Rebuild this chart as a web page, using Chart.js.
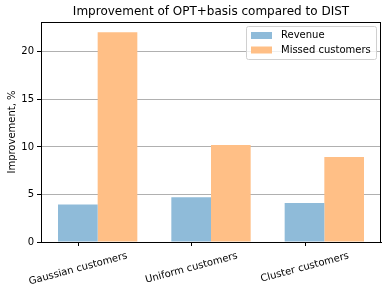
<!DOCTYPE html>
<html>
<head>
<meta charset="utf-8">
<script src="https://cdn.jsdelivr.net/npm/chart.js@4"></script>
<style>
	html, body { margin: 0; padding: 0; background: #fff; }
	#wrap { width: 391px; height: 293px; }
</style>
</head>
<body>
<div id="wrap"><canvas id="chart" width="391" height="293"></canvas></div>
<script>
const categories = ["Gaussian customers", "Uniform customers", "Cluster customers"];
const revenue = [3.95, 4.7, 4.1];
const missedCustomers = [22.07, 10.19, 8.93];
const yTicks = [0, 5, 10, 15, 20];

const FONT = "'DejaVu Sans', sans-serif";
const ROT = 15 * Math.PI / 180;

// frame, title, legend box and the x ticks (matplotlib puts them under the first bar of each group)
const framePlugin = {
	id: "frame",
	afterDraw(chart) {
		const { ctx, chartArea: a } = chart;
		ctx.save();
		ctx.strokeStyle = "#000";
		ctx.lineWidth = 1;
		ctx.strokeRect(a.left + 0.5, a.top + 0.5, a.right - a.left - 1, a.bottom - a.top);

		// x ticks + centred rotated labels
		const bars = chart.getDatasetMeta(0).data;
		ctx.font = "10px " + FONT;
		ctx.fillStyle = "#000";
		ctx.textAlign = "center";
		ctx.textBaseline = "alphabetic";
		chart.data.labels.forEach((label, i) => {
			const tx = Math.round(bars[i].x) + 0.5;
			ctx.beginPath();
			ctx.moveTo(tx, a.bottom);
			ctx.lineTo(tx, a.bottom + 4);
			ctx.stroke();

			const w = ctx.measureText(label).width;
			const boxH = w * Math.sin(ROT) + 7.5 * Math.cos(ROT);
			const cy = a.bottom + 9 + boxH / 2;
			ctx.save();
			ctx.translate(bars[i].x, cy);
			ctx.rotate(-ROT);
			ctx.fillText(label, 0, 3.7);
			ctx.restore();
		});

		ctx.font = "12px " + FONT;
		ctx.textAlign = "center";
		ctx.textBaseline = "middle";
		ctx.fillText("Improvement of OPT+basis compared to DIST", (a.left + a.right) / 2, 12);

		const w = 130, h = 33;
		const x = a.right - 5 - w, y = a.top + 4;
		ctx.fillStyle = "rgba(255,255,255,0.8)";
		ctx.strokeStyle = "#d0d0d0";
		ctx.beginPath();
		ctx.roundRect(x + 0.5, y + 0.5, w, h, 2);
		ctx.fill();
		ctx.stroke();

		ctx.font = "10px " + FONT;
		ctx.textAlign = "left";
		chart.data.datasets.forEach((ds, i) => {
			const cy = y + 9 + i * 14.5;
			ctx.fillStyle = ds.backgroundColor;
			ctx.fillRect(x + 5, cy - 3, 21, 7);
			ctx.fillStyle = "#000";
			ctx.fillText(ds.label, x + 35, cy + 0.5);
		});
		ctx.restore();
	}
};

new Chart(document.getElementById("chart"), {
	type: "bar",
	data: {
		labels: categories,
		datasets: [{
			label: "Revenue",
			data: revenue,
			backgroundColor: "#8fbbd9",
			categoryPercentage: 0.7,
			barPercentage: 1.0
		}, {
			label: "Missed customers",
			data: missedCustomers,
			backgroundColor: "#ffbf86",
			categoryPercentage: 0.7,
			barPercentage: 1.0
		}]
	},
	options: {
		responsive: false,
		animation: false,
		layout: { padding: { top: 22, right: 10, left: 0, bottom: 0 } },
		plugins: {
			legend: { display: false },
			title: { display: false },
			tooltip: { enabled: false }
		},
		scales: {
			x: {
				offset: true,
				grid: { display: false },
				border: { color: "#000" },
				ticks: { display: false },
				afterFit(scale) {
					scale.height = 51;
					scale.paddingLeft = 0;
					scale.paddingRight = 0;
				}
			},
			y: {
				min: 0,
				max: 23.14,
				afterBuildTicks(scale) {
					scale.ticks = yTicks.map(v => ({ value: v }));
				},
				grid: { color: "#b0b0b0", tickLength: 4, tickColor: "#000" },
				border: { color: "#000" },
				ticks: {
					color: "#000",
					font: { family: FONT, size: 10 },
					padding: 3
				},
				title: {
					display: true,
					text: "Improvement, %",
					color: "#000",
					font: { family: FONT, size: 10 },
					padding: { top: 6, bottom: 0 }
				},
				afterFit(scale) { scale.width = 41; }
			}
		}
	},
	plugins: [framePlugin]
});
</script>
</body>
</html>
